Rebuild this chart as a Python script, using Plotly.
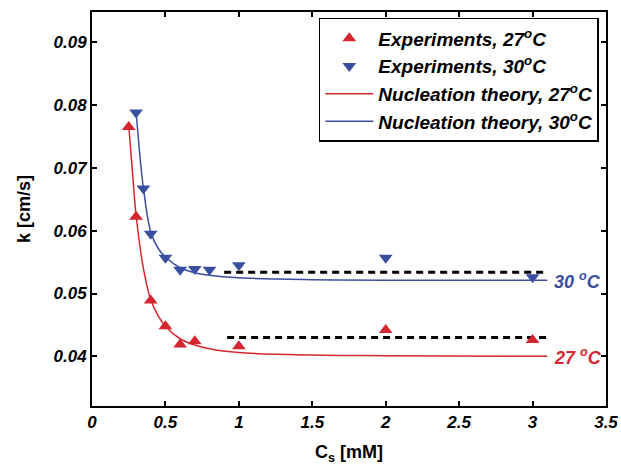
import plotly.graph_objects as go

# Experimental data
x_exp_27 = [0.25, 0.30, 0.40, 0.50, 0.60, 0.70, 1.00, 2.00, 3.00]
k_exp_27 = [0.0765, 0.0622, 0.0489, 0.0448, 0.0419, 0.0424, 0.0416, 0.0442, 0.0426]
x_exp_30 = [0.30, 0.35, 0.40, 0.50, 0.60, 0.70, 0.80, 1.00, 2.00, 3.00]
k_exp_30 = [0.0788, 0.0667, 0.0595, 0.0557, 0.0538, 0.0539, 0.0538, 0.0545, 0.0557, 0.0526]

# Nucleation theory curves
x_th_27 = [0.25, 0.28, 0.30, 0.35, 0.40, 0.45, 0.50, 0.60, 0.70, 0.80, 1.00, 1.50, 2.00, 3.10]
k_th_27 = [0.0768, 0.0680, 0.0625, 0.0540, 0.0490, 0.0465, 0.0448, 0.0428, 0.0418, 0.0412, 0.0406, 0.0402, 0.0401, 0.0400]
x_th_30 = [0.30, 0.33, 0.35, 0.40, 0.45, 0.50, 0.60, 0.70, 0.80, 1.00, 1.50, 2.00, 3.10]
k_th_30 = [0.0790, 0.0710, 0.0668, 0.0598, 0.0572, 0.0558, 0.0541, 0.0533, 0.0529, 0.0525, 0.0522, 0.0521, 0.0521]

# Dashed plateau lines
x_dash_30 = [0.90, 3.10]
k_dash_30 = [0.0534, 0.0534]
x_dash_27 = [0.92, 3.10]
k_dash_27 = [0.0430, 0.0430]

x_ticks = [0, 0.5, 1, 1.5, 2, 2.5, 3, 3.5]
x_tick_labels = ["0", "0.5", "1", "1.5", "2", "2.5", "3", "3.5"]
y_ticks = [0.04, 0.05, 0.06, 0.07, 0.08, 0.09]
y_tick_labels = ["0.04", "0.05", "0.06", "0.07", "0.08", "0.09"]

RED = "rgb(212,38,46)"
BLUE = "rgb(58,78,160)"
FONT = "Liberation Sans"

fig = go.Figure()
fig.add_trace(go.Scatter(x=x_dash_30, y=k_dash_30, mode="lines", showlegend=False,
                         line=dict(color="black", width=3, dash="7px,5px")))
fig.add_trace(go.Scatter(x=x_dash_27, y=k_dash_27, mode="lines", showlegend=False,
                         line=dict(color="black", width=3, dash="7px,5px")))
fig.add_trace(go.Scatter(x=x_exp_27, y=k_exp_27, mode="markers", legendgroup="a",
                         name="<i><b>Experiments, 27<sup>o</sup>C</b></i>",
                         marker=dict(symbol="triangle-up", size=12, color=RED)))
fig.add_trace(go.Scatter(x=x_exp_30, y=k_exp_30, mode="markers", legendgroup="b",
                         name="<i><b>Experiments, 30<sup>o</sup>C</b></i>",
                         marker=dict(symbol="triangle-down", size=12, color=BLUE)))
fig.add_trace(go.Scatter(x=x_th_27, y=k_th_27, mode="lines", line_shape="spline", legendgroup="c",
                         name="<i><b>Nucleation theory, 27<sup>o</sup>C</b></i>",
                         line=dict(color=RED, width=1.5)))
fig.add_trace(go.Scatter(x=x_th_30, y=k_th_30, mode="lines", line_shape="spline", legendgroup="d",
                         name="<i><b>Nucleation theory, 30<sup>o</sup>C</b></i>",
                         line=dict(color=BLUE, width=1.5)))

fig.add_annotation(x=3.13, y=k_th_30[-1], xref="x", yref="y", xanchor="left", yanchor="middle",
                   text="<i><b>30 <sup>o</sup>C</b></i>", showarrow=False,
                   font=dict(family=FONT, size=18, color=BLUE))
fig.add_annotation(x=3.13, y=k_th_27[-1], xref="x", yref="y", xanchor="left", yanchor="middle",
                   text="<i><b>27 <sup>o</sup>C</b></i>", showarrow=False,
                   font=dict(family=FONT, size=18, color=RED))

axis_common = dict(showline=True, linecolor="black", linewidth=2, mirror="ticks",
                   ticks="inside", ticklen=5, tickwidth=1.5, tickcolor="black",
                   showgrid=False, zeroline=False, automargin=False,
                   tickfont=dict(family=FONT, size=17, color="black"))

fig.update_xaxes(range=[0, 3.5], tickvals=x_ticks,
                 ticktext=["<i><b>%s</b></i>" % t for t in x_tick_labels],
                 title=dict(text="<b>C<sub>s</sub> [mM]</b>", font=dict(family=FONT, size=18, color="black"),
                            standoff=14),
                 **axis_common)
fig.update_yaxes(range=[0.0321, 0.0948], tickvals=y_ticks,
                 ticktext=["<i><b>%s</b></i>" % t for t in y_tick_labels],
                 title=dict(text="<b>k [cm/s]</b>", font=dict(family=FONT, size=18, color="black"),
                            standoff=18),
                 **axis_common)

fig.update_layout(
    width=621, height=469,
    margin=dict(l=92, r=15, t=12, b=63),
    plot_bgcolor="white", paper_bgcolor="white",
    font=dict(family=FONT, color="black"),
    legend=dict(x=0.986, y=0.985, xanchor="right", yanchor="top",
                bordercolor="black", borderwidth=1.5, bgcolor="white",
                font=dict(family=FONT, size=19, color="black"),
                itemwidth=48, tracegroupgap=0),
)

fig.write_html("out.html")
